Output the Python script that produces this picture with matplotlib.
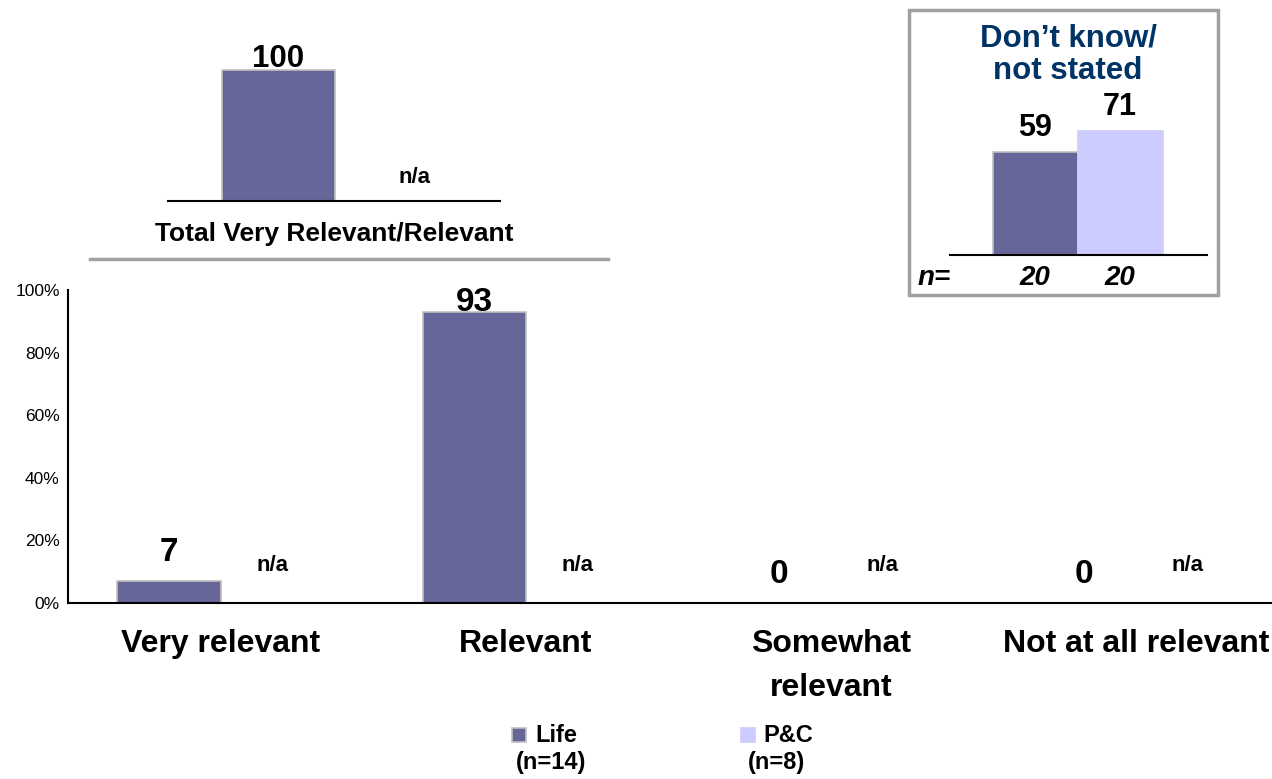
import matplotlib
matplotlib.use('Agg')
from matplotlib import pyplot as plt
from matplotlib.patches import Rectangle
import numpy as np

plt.rcParams['font.family'] = ['Liberation Sans', 'DejaVu Sans']

# main chart data (percent)
categories = ['Very relevant', 'Relevant', 'Somewhat\nrelevant', 'Not at all relevant']
life_values = [7, 93, 0, 0]
pc_labels = ['n/a', 'n/a', 'n/a', 'n/a']

# summary panel
total_label = 'Total Very Relevant/Relevant'
total_life = 100
total_pc = 'n/a'

# don't know panel
dk_title = 'Don\u2019t know/\nnot stated'
dk_values = [59, 71]
dk_n = ['20', '20']

legend_names = ['Life\n(n=14)', 'P&C\n(n=8)']

LIFE = '#666699'
PC = '#ccccff'
EDGE = '#c0c0c0'
GREY = '#a0a0a0'
W, H = 1272, 779


def px_rect(x0, y0, x1, y1):
    # pixel box (top-left origin) -> figure fraction rect
    return [x0 / W, 1 - y1 / H, (x1 - x0) / W, (y1 - y0) / H]


fig = plt.figure(figsize=(12.72, 7.79), dpi=100)

# ---- main bars
ax = fig.add_axes(px_rect(68, 290, 1272, 603))
x = np.arange(len(categories))
bw = 0.338
ax.bar(x - bw / 2, life_values, width=bw, color=LIFE, edgecolor=EDGE, linewidth=1.2)
for xi, v, lab in zip(x, life_values, pc_labels):
    ax.text(xi - bw / 2, min(v + 9, 96), str(v), ha='center', va='center',
            fontsize=24, fontweight='bold')
    ax.text(xi + bw / 2, 12, lab, ha='center', va='center',
            fontsize=16, fontweight='bold')
ax.set_xlim(-0.5, 3.446)
ax.set_ylim(0, 100)
ax.set_yticks(np.arange(0, 101, 20))
ax.set_yticklabels([f'{t}%' for t in range(0, 101, 20)])
ax.tick_params(axis='y', length=0, pad=6, labelsize=12.5)
ax.set_xticks(x)
ax.set_xticklabels(categories, fontsize=23, fontweight='bold', linespacing=1.6)
ax.tick_params(axis='x', length=0, pad=19)
for s in ['top', 'right']:
    ax.spines[s].set_visible(False)
for s in ['left', 'bottom']:
    ax.spines[s].set_linewidth(1.5)

# ---- total panel
ax2 = fig.add_axes(px_rect(168, 40, 500, 201))
ax2.bar([0], [total_life], width=0.83, color=LIFE, edgecolor=EDGE, linewidth=1.2)
ax2.annotate(str(total_life), (0, total_life), xytext=(0, -3), textcoords='offset points',
             ha='center', va='bottom', fontsize=22.5, fontweight='bold')
ax2.text(1, 18, total_pc, ha='center', va='center', fontsize=16, fontweight='bold')
ax2.set_xlim(-0.81, 1.63)
ax2.set_ylim(0, 123)
ax2.set_xticks([])
ax2.set_yticks([])
for s in ['top', 'right', 'left']:
    ax2.spines[s].set_visible(False)
ax2.spines['bottom'].set_linewidth(1.5)
ax2.set_xlabel(total_label, fontsize=19, fontweight='bold', labelpad=15)
fig.add_artist(plt.Line2D([90 / W, 608 / W], [1 - 259 / H, 1 - 259 / H],
                          color=GREY, linewidth=2.5))

# ---- don't know panel
ax3 = fig.add_axes(px_rect(950, 100, 1207, 255))
ax3.bar([0, 1], dk_values, width=1.0, color=[LIFE, PC], edgecolor=[EDGE, PC], linewidth=1.2)
for xi, v in zip([0, 1], dk_values):
    ax3.annotate(str(v), (xi, v), xytext=(0, 7), textcoords='offset points',
                 ha='center', va='bottom', fontsize=22, fontweight='bold')
ax3.set_xlim(-1.0, 2.02)
ax3.set_ylim(0, 89)
ax3.set_yticks([])
ax3.set_xticks([0, 1])
ax3.set_xticklabels(dk_n, fontsize=20, fontweight='bold', style='italic')
ax3.tick_params(axis='x', length=0, pad=7)
ax3.text(-1.38, -13, 'n=', ha='left', va='center', fontsize=20, fontweight='bold',
         style='italic', clip_on=False, transform=ax3.transData)
for s in ['top', 'right', 'left']:
    ax3.spines[s].set_visible(False)
ax3.spines['bottom'].set_linewidth(1.5)
fig.text(1068 / W, 1 - 55 / H, dk_title, ha='center', va='center', fontsize=22.5,
         fontweight='bold', color='#003366', linespacing=1.12)
fig.add_artist(Rectangle((909 / W, 1 - 295 / H), 309 / W, 285 / H, transform=fig.transFigure,
                         fill=False, edgecolor=GREY, linewidth=2.5))

# ---- legend
legend_pos = [(512, 535, 551), (741, 763, 777)]
for (sx, hx, nx), name, col, ec in zip(legend_pos, legend_names, [LIFE, PC], [EDGE, PC]):
    fig.add_artist(Rectangle((sx / W, 1 - 742 / H), 14 / W, 14 / H, transform=fig.transFigure,
                             facecolor=col, edgecolor=ec, linewidth=1.2))
    head, sub = name.split('\n')
    fig.text(hx / W, 1 - 735 / H, head, ha='left', va='center', fontsize=17, fontweight='bold')
    fig.text(nx / W, 1 - 762 / H, sub, ha='center', va='center', fontsize=17, fontweight='bold')

fig.savefig('out.png', dpi=100)
